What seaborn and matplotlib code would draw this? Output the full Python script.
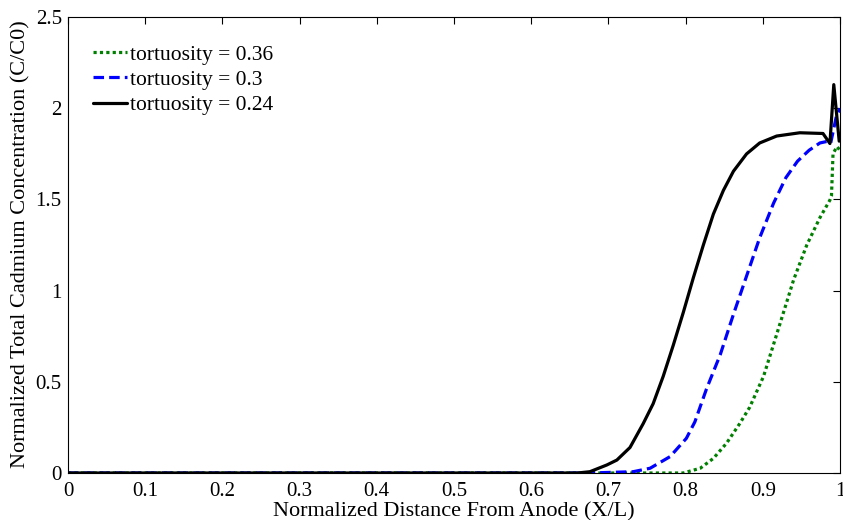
import numpy as np
import pandas as pd
import matplotlib
matplotlib.use("Agg")
import matplotlib.pyplot as plt
import seaborn as sns

# Normalized distance from anode (X/L) and concentration (C/C0) per tortuosity
x_t036 = [0.0, 0.797, 0.819, 0.836, 0.853, 0.870, 0.883, 0.901, 0.918, 0.940,
          0.957, 0.974, 0.987, 0.989, 0.991, 0.996, 1.0]
c_t036 = [0.0, 0.0, 0.026, 0.08, 0.163, 0.27, 0.36, 0.53, 0.76, 1.06,
          1.25, 1.40, 1.497, 1.52, 1.75, 1.79, 1.77]

x_t030 = [0.0, 0.676, 0.732, 0.754, 0.780, 0.801, 0.812, 0.827, 0.845, 0.862,
          0.879, 0.896, 0.914, 0.930, 0.945, 0.960, 0.974, 0.985, 0.988, 0.995, 1.0]
c_t030 = [0.0, 0.0, 0.007, 0.026, 0.09, 0.19, 0.28, 0.46, 0.65, 0.87,
          1.08, 1.29, 1.48, 1.62, 1.71, 1.77, 1.81, 1.82, 1.81, 1.95, 2.0]

x_t024 = [0.0, 0.5, 0.66, 0.676, 0.698, 0.711, 0.728, 0.745, 0.758, 0.771,
          0.784, 0.797, 0.810, 0.823, 0.836, 0.849, 0.862, 0.879, 0.896,
          0.918, 0.948, 0.978, 0.987, 0.992, 0.999]
c_t024 = [0.0, 0.0, 0.0, 0.007, 0.044, 0.071, 0.14, 0.27, 0.38, 0.53,
          0.70, 0.88, 1.07, 1.25, 1.42, 1.55, 1.655, 1.75, 1.81,
          1.848, 1.866, 1.862, 1.807, 2.13, 1.82]

labels = ["tortuosity = 0.36", "tortuosity = 0.3", "tortuosity = 0.24"]
x_ticks = [0, 0.1, 0.2, 0.3, 0.4, 0.5, 0.6, 0.7, 0.8, 0.9, 1]
x_tick_labels = ["0", "0.1", "0.2", "0.3", "0.4", "0.5", "0.6", "0.7", "0.8", "0.9", "1"]
y_ticks = [0, 0.5, 1, 1.5, 2, 2.5]
y_tick_labels = ["0", "0.5", "1", "1.5", "2", "2.5"]

sns.set_theme(style="white")
plt.rcParams["font.family"] = ["Liberation Serif", "DejaVu Serif"]
for key in ["text.color", "axes.labelcolor", "xtick.color", "ytick.color", "axes.edgecolor"]:
    plt.rcParams[key] = "black"

fig = plt.figure(figsize=(8.43, 5.2), dpi=100)
ax = fig.add_axes([0.0807, 0.0904, 0.9157, 0.8766])

series = [
    (x_t036, c_t036, labels[0], "#008000", (1.0, 1.0)),
    (x_t030, c_t030, labels[1], "#0000ff", (3.3, 1.6)),
    (x_t024, c_t024, labels[2], "#000000", None),
]
for xs, cs, lab, col, dash in series:
    df = pd.DataFrame({"x": xs, "c": cs})
    sns.lineplot(data=df, x="x", y="c", ax=ax, sort=False, estimator=None,
                 color=col, linewidth=2.3, label=lab)
    ln = ax.get_lines()[-1]
    ln.set_solid_joinstyle("round")
    if dash:
        ln.set_dashes(dash)

ax.set_xlim(0, 1)
ax.set_ylim(0, 2.5)
ax.set_xticks(x_ticks)
ax.set_xticklabels(x_tick_labels)
ax.set_yticks(y_ticks)
ax.set_yticklabels(y_tick_labels)
ax.tick_params(direction="in", length=5, width=0.8, top=True, right=True,
               labelsize=15, colors="black")
ax.tick_params(axis="x", pad=6.5)
ax.tick_params(axis="y", pad=4.5)
for sp in ax.spines.values():
    sp.set_color("black")
    sp.set_linewidth(0.8)

ax.set_xlabel("Normalized Distance From Anode (X/L)", fontsize=16)
ax.xaxis.label.set_va("baseline")
ax.xaxis.set_label_coords(0.5, -0.0965)
ax.set_ylabel("Normalized Total Cadmium Concentration (C/C0)", fontsize=16)
ax.yaxis.label.set_va("baseline")
ax.yaxis.set_label_coords(-0.0557, 0.502)

leg = ax.legend(loc="upper left", frameon=False, fontsize=15.5, handlelength=1.58,
                handletextpad=0.12, labelspacing=0.24, borderaxespad=0.0,
                borderpad=0.0, bbox_to_anchor=(0.0324, 0.94))
for h in leg.get_lines():
    h.set_linewidth(2.3)

fig.savefig("out.png", dpi=100)
